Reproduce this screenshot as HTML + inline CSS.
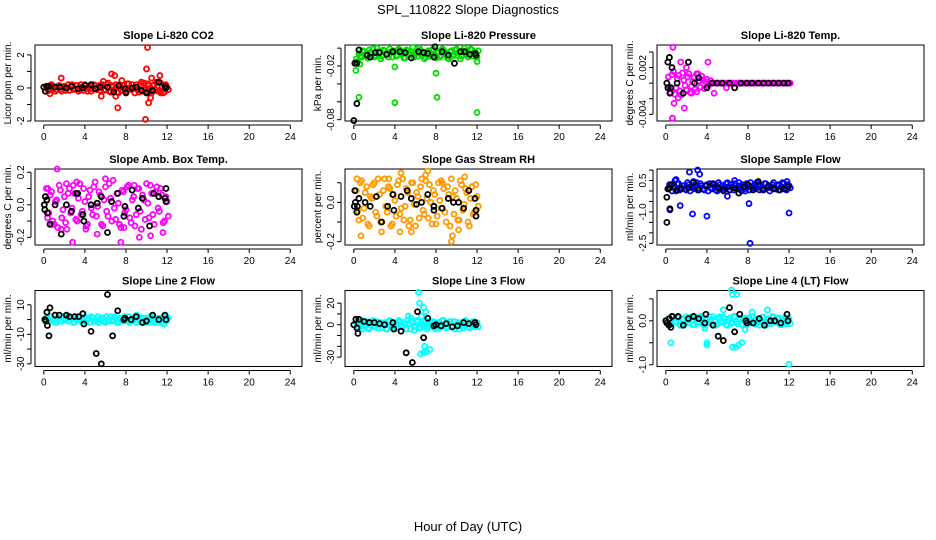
<!DOCTYPE html>
<html><head><meta charset="utf-8"><style>
body{margin:0;background:#fff;}
svg{display:block;font-family:"Liberation Sans",sans-serif;}
</style></head><body>
<svg id="chart" width="936" height="540" viewBox="0 0 936 540">
<text x="468" y="14" text-anchor="middle" font-size="13">SPL_110822  Slope Diagnostics</text>
<text x="468" y="531" text-anchor="middle" font-size="13">Hour of Day (UTC)</text>
</svg>
<script>
const xTicks=[0,4,8,12,16,20,24];
const bandHours=[0.25,0.5,0.75,1,1.25,1.5,1.75,2,2.25,2.5,2.75,3,3.25,3.5,3.75,4,4.25,4.5,4.75,5,5.25,5.5,5.75,6,6.25,6.5,6.75,7,7.25,7.5,7.75,8,8.25,8.5,8.75,9,9.25,9.5,9.75,10,10.25,10.5,10.75,11,11.25,11.5,11.75,12];

const co2BandA=[0.1,-0.15,0.2,0.05,-0.1,0.15,-0.2,0.1,0.0,-0.15,0.2,-0.05,0.15,-0.1,0.05,0.2,-0.2,0.1,-0.05,0.15,0.0,-0.15,0.2,-0.1,0.3,-0.25,0.1,0.2,-0.3,0.05,0.15,-0.2,0.25,-0.1,0.0,0.2,-0.25,0.1,0.3,-0.2,0.15,-0.3,0.2,0.35,-0.15,0.1,-0.25,0.05];
const co2BandB=[-0.1,0.15,-0.05,-0.2,0.1,-0.1,0.05,-0.15,0.2,0.1,-0.1,0.15,-0.2,0.2,-0.15,-0.05,0.1,-0.2,0.2,-0.1,0.15,0.1,-0.15,0.2,-0.2,0.15,-0.1,-0.25,0.2,-0.15,-0.1,0.25,-0.05,0.2,-0.3,-0.1,0.2,-0.2,-0.1,0.25,-0.2,0.15,-0.1,-0.2,0.3,-0.3,0.2,-0.1];
const co2Outliers=[[1.7,0.6],[6.6,0.85],[6.9,0.75],[7.0,-0.5],[7.2,-1.2],[9.9,-1.9],[10.0,1.15],[10.1,2.45],[10.2,-0.9],[10.4,-0.6],[10.5,0.6],[11.3,0.75],[11.4,-0.3],[9.5,0.35],[5.8,0.4],[7.6,0.45],[0.6,-0.35],[5.6,-0.5]];
const co2Black=[[0,0.05],[0.15,-0.2],[0.3,0.1],[0.5,0.1],[1.1,0.05],[1.6,0.05],[2.2,0.0],[2.7,0.1],[3.3,-0.05],[3.8,0.0],[4.0,0.15],[4.6,0.2],[5.0,-0.05],[5.5,0.05],[6.2,0.05],[6.8,-0.25],[7.3,0.15],[7.9,-0.05],[8.0,-0.3],[8.6,0.0],[9.0,0.05],[9.5,-0.15],[10.0,-0.3],[10.6,-0.15],[11.2,0.35],[11.8,0.1],[11.9,0.0]];

const presBandA=[-0.012,-0.006,-0.01,-0.004,-0.008,-0.002,-0.006,-0.01,0.0,-0.005,-0.009,-0.003,-0.007,-0.001,-0.01,-0.004,-0.008,-0.002,-0.006,-0.011,-0.003,-0.007,0.001,-0.005,-0.009,-0.002,-0.006,-0.01,-0.003,-0.007,-0.001,-0.011,-0.004,-0.008,-0.002,-0.006,-0.012,-0.003,-0.007,-0.001,-0.005,-0.009,0.0,-0.004,-0.008,-0.002,-0.006,-0.01];
const presBandB=[-0.015,-0.009,-0.003,-0.007,-0.011,-0.005,-0.001,-0.008,-0.004,-0.012,-0.002,-0.006,-0.01,-0.004,-0.003,-0.009,-0.001,-0.007,-0.011,-0.002,-0.008,-0.004,-0.01,-0.006,0.0,-0.008,-0.012,-0.004,-0.009,-0.002,-0.008,-0.005,-0.01,-0.001,-0.007,-0.011,-0.004,-0.009,-0.002,-0.008,-0.012,-0.003,-0.007,-0.01,-0.001,-0.009,-0.005,-0.003];
const presOutliers=[[0.2,-0.025],[0.5,-0.055],[4.0,-0.061],[8.0,-0.028],[8.1,-0.055],[12.0,-0.072],[12.0,-0.015],[4.0,-0.021],[0.6,-0.018]];
const presBlack=[[0.0,-0.081],[0.3,-0.062],[0.1,-0.017],[0.3,-0.017],[0.5,-0.002],[1.3,-0.008],[1.6,-0.01],[2.1,-0.005],[2.5,-0.005],[3.2,-0.007],[3.8,-0.004],[4.5,-0.004],[5.0,-0.005],[5.6,-0.011],[6.3,-0.004],[6.8,-0.005],[7.2,-0.006],[7.8,-0.01],[7.9,0.0015],[8.6,-0.004],[9.2,-0.008],[9.8,-0.017],[10.4,-0.004],[10.8,-0.004],[11.3,-0.007],[11.8,-0.006],[11.9,-0.008]];

const tempBandA=[0.0008,-0.0012,0.0015,-0.0006,0.001,-0.0015,0.0004,-0.0009,0.0012,-0.0004,0.0007,-0.0011,0.0003,0.0009,-0.0007,0.0005,0,0,0,0,0,0,0,0,0,0,0,0,0,0,0,0,0,0,0,0,0,0,0,0,0,0,0,0,0,0,0,0];
const tempBandB=[-0.0005,0.0011,-0.0014,0.0006,-0.001,0.0013,-0.0003,0.0008,-0.0012,0.0002,-0.0008,0.0012,-0.0005,0.0004,0.0002,-0.0003,0.0003,0,0,0,0,0,0,0,0,0,0,0,0,0,0,0,0,0,0,0,0,0,0,0,0,0,0,0,0,0,0,0];
const tempOutliers=[[0.7,0.0046],[0.65,-0.0045],[1.8,-0.0032],[0.8,-0.0026],[1.45,0.0027],[4.1,0.0027],[2.0,0.002],[4.7,-0.0013],[3.0,0.0012],[2.5,-0.0013],[1.2,-0.0019],[5.9,-0.0006]];
const tempBlack=[[0.1,0],[0.2,0.0027],[0.2,-0.0006],[0.35,0.0033],[0.4,-0.0013],[0.5,-0.0006],[0.6,0.002],[1.1,0],[1.7,-0.0013],[2.2,0.0027],[2.8,0],[3.2,0.0007],[4.0,-0.0006],[4.5,0],[5.0,0],[5.5,0],[6.2,0],[6.7,-0.0006],[7.3,0],[7.9,0],[8.4,0],[9.0,0],[9.5,0],[10.0,0],[10.5,0],[11.0,0],[11.5,0],[11.9,0]];

const ambBandA=[0.1,-0.05,0.08,-0.12,0.03,0.12,-0.08,0.05,-0.15,0.1,-0.02,0.07,-0.1,0.13,-0.04,0.02,-0.12,0.09,-0.06,0.14,-0.01,0.06,-0.13,0.11,-0.07,0.04,0.15,-0.09,0.01,-0.14,0.08,-0.03,0.12,-0.11,0.05,-0.06,0.1,-0.15,0.03,0.13,-0.08,0.07,-0.12,0.11,-0.04,0.06,-0.1,0.02];
const ambBandB=[-0.08,0.06,-0.1,0.02,-0.14,0.09,-0.03,-0.11,0.07,-0.05,0.12,-0.09,0.04,-0.06,0.1,-0.13,0.05,-0.02,0.11,-0.07,0.08,-0.12,0.03,-0.04,0.13,-0.1,-0.02,0.07,-0.12,0.09,-0.05,0.11,-0.08,0.03,-0.13,0.1,-0.04,0.06,-0.09,0.01,0.12,-0.06,0.08,-0.02,0.1,-0.11,0.05,-0.07];
const ambOutliers=[[1.3,0.22],[2.8,-0.23],[7.5,-0.23],[5.2,-0.18],[3.2,0.14],[6.0,0.16],[2.2,0.13],[9.3,-0.2],[10.4,-0.19],[1.7,-0.15],[0.8,-0.12],[11.6,-0.17],[4.1,-0.15],[7.8,-0.14],[0.4,0.1],[8.8,0.12]];
const ambBlack=[[0.05,0.0],[0.1,-0.03],[0.15,0.05],[0.3,0.03],[0.35,-0.05],[0.6,-0.12],[1.1,0.0],[1.7,-0.18],[2.2,0.0],[2.7,-0.04],[3.2,0.07],[3.3,0.07],[3.8,-0.06],[3.9,-0.1],[4.6,0.0],[5.2,0.01],[5.6,0.05],[6.2,-0.17],[6.6,0.02],[7.2,0.07],[7.8,-0.07],[7.9,-0.01],[8.6,0.09],[9.2,-0.02],[9.6,0.04],[10.3,-0.13],[10.7,0.07],[11.2,0.05],[11.8,0.04],[11.9,0.1],[11.9,0.02]];

const rhBandA=[0.06,-0.09,0.11,-0.03,0.08,-0.12,0.02,0.1,-0.07,0.04,-0.1,0.12,-0.05,0.07,-0.11,0.01,0.09,-0.06,0.12,-0.02,0.05,-0.09,0.1,-0.12,0.03,0.08,-0.04,0.11,-0.08,0.0,0.06,-0.11,0.1,-0.03,0.07,-0.1,0.04,0.12,-0.06,0.02,-0.09,0.09,-0.01,0.05,-0.12,0.08,-0.05,0.03];
const rhBandB=[-0.04,0.1,-0.08,0.05,-0.11,0.03,0.09,-0.05,0.12,-0.1,0.06,-0.02,0.08,-0.12,0.04,-0.07,0.11,-0.03,-0.09,0.07,-0.12,0.1,-0.01,0.05,-0.08,0.12,-0.06,0.02,0.09,-0.11,0.04,-0.07,0.01,0.1,-0.05,0.08,-0.12,0.03,0.06,-0.09,0.11,-0.04,0.07,-0.1,0.02,-0.06,0.09,-0.02];
const rhOutliers=[[0.7,-0.17],[2.7,-0.15],[4.6,0.15],[7.2,0.16],[9.5,-0.2],[9.6,-0.17],[10.8,0.13],[7.0,0.14],[4.5,-0.15],[5.6,-0.15],[10.2,-0.14],[0.3,0.12],[8.5,0.11],[3.4,0.12]];
const rhBlack=[[0.05,-0.02],[0.1,0.06],[0.15,0.0],[0.3,-0.05],[0.35,-0.02],[0.5,0.02],[1.1,0.0],[1.6,-0.02],[2.2,0.03],[2.7,-0.1],[3.3,-0.02],[3.8,0.04],[3.9,-0.04],[4.6,0.03],[5.2,0.06],[5.6,0.02],[6.1,-0.01],[6.6,0.0],[7.2,0.04],[7.8,-0.02],[7.8,-0.04],[8.6,-0.03],[9.2,0.02],[9.7,0.0],[10.2,0.0],[10.7,-0.03],[11.2,0.06],[11.8,0.02],[11.9,-0.04],[11.9,-0.07]];

const flowBandA=[0.1,0.3,0.2,0.0,0.35,0.15,0.25,0.05,0.3,0.2,0.1,0.4,0.15,0.25,0.05,0.3,0.35,0.1,0.2,0.0,0.3,0.25,0.15,0.4,0.05,0.2,0.35,0.1,0.25,0.3,0.0,0.2,0.4,0.15,0.1,0.3,0.25,0.05,0.35,0.2,0.15,0.4,0.1,0.3,0.2,0.35,0.05,0.25];
const flowBandB=[0.3,0.0,0.15,0.35,0.05,0.25,0.1,0.4,0.0,0.15,0.3,0.05,0.35,0.1,0.25,0.0,0.15,0.3,0.05,0.4,0.1,0.0,0.35,0.2,0.3,0.05,0.15,0.4,0.0,0.1,0.35,0.05,0.2,0.3,0.4,0.05,0.1,0.35,0.15,0.0,0.3,0.1,0.25,0.05,0.4,0.1,0.3,0.15];
const flowOutliers=[[2.3,0.9],[3.1,1.0],[3.3,0.8],[8.2,-2.5],[8.1,-0.6],[12.0,-1.05],[4.0,-1.2],[2.6,-1.1],[1.4,-0.7],[0.4,-0.9],[0.9,0.5],[2.7,0.45],[6.7,0.5],[1.0,0.55],[11.8,0.45],[6.0,-0.25]];
const flowBlack=[[0.1,-1.5],[0.4,-0.85],[0.1,-0.3],[0.2,0.1],[0.4,0.15],[0.6,0.3],[1.1,0.05],[1.5,0.1],[2.2,0.15],[2.7,0.4],[3.2,0.05],[3.9,0.25],[4.6,0.35],[5.1,0.15],[5.6,0.05],[6.2,0.05],[6.7,0.15],[7.1,-0.1],[7.6,0.2],[8.0,0.3],[8.5,0.05],[9.0,0.45],[9.5,0.05],[10.0,0.25],[10.5,0.1],[11.0,0.05],[11.5,0.1],[11.9,0.2]];

const l2BandA=[1,-1,2,0,-2,1,-1,0,2,-1,1,-2,0,1,-1,2,0,-2,1,-1,2,0,1,-2,-1,2,0,1,-2,1,-1,0,2,-1,1,-2,2,0,-1,1,-2,2,-1,0,1,-2,2,0];
const l2BandB=[-1,2,0,-2,1,-1,2,0,-1,1,-2,1,2,-1,0,-2,1,2,-1,0,-2,1,-1,2,0,-1,2,-2,1,0,2,-1,-2,1,0,2,-1,1,-2,0,2,-1,1,-2,0,2,-1,1];
const l2Outliers=[[11.7,-3],[9.0,3],[10.8,-2]];
const l2Black=[[0.1,0],[0.2,-1],[0.3,5],[0.35,-4],[0.5,-11],[0.6,8],[1.1,3],[1.5,3],[2.2,3],[2.5,2],[3.0,2],[3.4,2],[3.8,4],[3.9,-3],[4.6,-8],[5.1,-23],[5.6,-30],[6.2,17],[6.7,-11],[7.2,6],[7.8,0],[7.9,1],[8.5,0],[9.0,2],[9.6,-2],[10.0,-1],[10.6,3],[11.2,0],[11.8,3],[11.9,0]];

const l3BandA=[2,-3,4,-1,3,-4,1,-2,3,0,-3,2,-4,4,-1,1,-3,3,-2,0,4,-4,2,-1,3,-3,1,4,-2,0,3,-4,2,-1,4,-3,1,-2,3,0,-4,2,-1,3,-3,1,-2,2];
const l3BandB=[-2,3,-4,1,-3,2,4,-1,-3,2,1,-4,3,-2,0,-3,4,-1,2,-4,1,3,-2,4,-3,0,-1,-4,3,2,-2,1,-3,4,0,-2,3,-1,-4,2,1,-3,4,-2,0,3,-1,-2];
const l3Outliers=[[6.3,30],[6.4,20],[6.6,8],[6.8,16],[7.0,12],[6.5,-27],[6.8,-26],[7.1,-25],[7.4,-23],[6.9,-20],[7.8,-3],[5.3,8],[5.6,6],[5.9,-5]];
const l3Black=[[0,0],[0.2,5],[0.3,-3],[0.4,-8],[0.5,5],[1.0,3],[1.5,2],[2.0,2],[2.5,1],[3.0,0],[3.8,2],[3.9,-4],[4.6,-6],[5.1,-26],[5.7,-35],[6.2,12],[6.8,-12],[7.2,6],[7.8,-1],[8.0,0],[8.5,-1],[9.0,1],[9.6,-2],[10.1,-1],[10.7,2],[11.2,1],[11.8,2],[11.9,0]];

const l4BandA=[0.05,-0.08,0.1,-0.02,0.07,-0.1,0.03,0.09,-0.05,0.01,-0.09,0.08,-0.03,0.06,-0.1,0.04,0.1,-0.06,0.02,-0.08,0.09,-0.01,0.05,-0.1,0.07,-0.04,0.1,-0.07,0.03,-0.09,0.06,0.0,-0.05,0.1,-0.08,0.04,-0.02,0.08,-0.1,0.05,-0.06,0.09,-0.03,0.07,-0.09,0.02,-0.07,0.04];
const l4BandB=[-0.06,0.09,-0.03,0.07,-0.1,0.04,-0.07,0.01,0.08,-0.09,0.06,-0.02,0.1,-0.08,0.03,-0.05,-0.01,0.09,-0.1,0.05,-0.04,0.08,-0.09,0.02,-0.06,0.1,-0.02,0.06,-0.08,0.04,-0.1,0.07,0.09,-0.04,0.01,-0.1,0.08,-0.05,0.03,-0.07,0.1,-0.02,0.06,-0.09,0.04,0.08,-0.03,-0.06];
const l4Outliers=[[6.4,0.7],[6.5,0.6],[6.9,0.6],[0.5,-0.5],[4.0,-0.55],[4.0,-0.5],[6.5,-0.6],[6.8,-0.6],[7.1,-0.55],[7.4,-0.5],[12.0,-0.99],[5.6,0.25],[8.4,0.2],[9.9,0.25],[7.7,-0.2],[3.8,-0.17]];
const l4Black=[[0,0],[0.1,-0.05],[0.3,-0.1],[0.35,0.05],[0.5,-0.15],[0.6,0.1],[1.2,0.1],[1.7,-0.1],[2.2,0.05],[2.7,0.1],[3.2,0.05],[3.8,-0.05],[3.9,0.15],[4.6,-0.1],[5.1,-0.35],[5.6,-0.45],[6.2,0.3],[6.7,-0.25],[7.2,0.15],[7.8,0],[7.9,-0.05],[8.5,-0.05],[9.1,0.05],[9.6,-0.1],[10.2,0],[10.6,0],[11.2,-0.05],[11.8,0.15],[11.9,0]];

const panels=[
 {id:'co2',title:'Slope Li-820 CO2',ylab:'Licor ppm per min.',col:0,row:0,ymin:-2.0,ymax:2.6,ticks:[-2,-1,0,1,2],labels:['-2','','0','','2'],color:'#ff0000',bandA:co2BandA,bandB:co2BandB,out:co2Outliers,black:co2Black},
 {id:'pressure',title:'Slope Li-820 Pressure',ylab:'kPa per min.',col:1,row:0,ymin:-0.0815,ymax:0.0035,ticks:[-0.08,-0.06,-0.04,-0.02,0],labels:['-0.08','','','-0.02',''],color:'#00dd00',bandA:presBandA,bandB:presBandB,out:presOutliers,black:presBlack},
 {id:'temp',title:'Slope Li-820 Temp.',ylab:'degrees C per min.',col:2,row:0,ymin:-0.00486,ymax:0.0049,ticks:[-0.004,-0.002,0,0.002,0.004],labels:['-0.004','','','0.002',''],color:'#ff00ff',bandA:tempBandA,bandB:tempBandB,out:tempOutliers,black:tempBlack},
 {id:'amb',title:'Slope Amb. Box Temp.',ylab:'degrees C per min.',col:0,row:1,ymin:-0.247,ymax:0.22,ticks:[-0.2,-0.1,0,0.1,0.2],labels:['-0.2','','0.0','','0.2'],color:'#ff00ff',bandA:ambBandA,bandB:ambBandB,out:ambOutliers,black:ambBlack},
 {id:'rh',title:'Slope Gas Stream RH',ylab:'percent per min.',col:1,row:1,ymin:-0.217,ymax:0.17,ticks:[-0.2,-0.1,0,0.1],labels:['-0.2','','0.0',''],color:'#ff9900',bandA:rhBandA,bandB:rhBandB,out:rhOutliers,black:rhBlack},
 {id:'flow',title:'Slope Sample Flow',ylab:'ml/min per min.',col:2,row:1,ymin:-2.58,ymax:1.05,ticks:[-2.5,-2,-1.5,-1,-0.5,0,0.5,1],labels:['-2.5','','','-1.0','','','0.5',''],color:'#0000ff',bandA:flowBandA,bandB:flowBandB,out:flowOutliers,black:flowBlack},
 {id:'line2',title:'Slope Line 2 Flow',ylab:'ml/min per min.',col:0,row:2,ymin:-31.8,ymax:19.7,ticks:[-30,-20,-10,0,10],labels:['-30','','-10','','10'],color:'#00ffff',bandA:l2BandA,bandB:l2BandB,out:l2Outliers,black:l2Black},
 {id:'line3',title:'Slope Line 3 Flow',ylab:'ml/min per min.',col:1,row:2,ymin:-38.7,ymax:31.7,ticks:[-30,-20,-10,0,10,20],labels:['-30','','','0','','20'],color:'#00ffff',bandA:l3BandA,bandB:l3BandB,out:l3Outliers,black:l3Black},
 {id:'line4',title:'Slope Line 4 (LT) Flow',ylab:'ml/min per min.',col:2,row:2,ymin:-1.04,ymax:0.69,ticks:[-1,-0.5,0,0.5],labels:['-1.0','','0.0',''],color:'#00ffff',bandA:l4BandA,bandB:l4BandB,out:l4Outliers,black:l4Black}
];

const NS='http://www.w3.org/2000/svg';
const svg=document.getElementById('chart');
const colLeft=[35,345,657], rowTop=[45,169,290.5], W=267, H=76;
const XMIN=-0.857, XMAX=25.14;
function mk(tag,attrs,parent){const e=document.createElementNS(NS,tag);for(const k in attrs)e.setAttribute(k,attrs[k]);(parent||svg).appendChild(e);return e;}

panels.forEach(p=>{
  const L=colLeft[p.col], T=rowTop[p.row];
  const xs=v=>L+(v-XMIN)/(XMAX-XMIN)*W;
  const ys=v=>T+H-(v-p.ymin)/(p.ymax-p.ymin)*H;
  const g=mk('g',{});
  
  
  const t=mk('text',{x:L+W/2,y:T-6,'text-anchor':'middle','font-size':'11','font-weight':'bold'},g);
  t.textContent=p.title;
  
  
  const yl=mk('text',{x:0,y:0,'text-anchor':'middle','font-size':'10',transform:`translate(${L-24},${T+H/2}) rotate(-90)`},g);
  yl.textContent=p.ylab;
  
  
  const xa=mk('line',{x1:xs(0),x2:xs(24),y1:T+H+4,y2:T+H+4,stroke:'#000','stroke-width':1},g);
  
  
  xTicks.forEach(v=>{
    const tk=mk('line',{x1:xs(v),x2:xs(v),y1:T+H+4,y2:T+H+8,stroke:'#000'},g);
    
    
    const tl=mk('text',{x:xs(v),y:T+H+19,'text-anchor':'middle','font-size':'10'},g);
    tl.textContent=String(v);
    
    
  });
  const ya=mk('line',{x1:L-4,x2:L-4,y1:ys(p.ticks[0]),y2:ys(p.ticks[p.ticks.length-1]),stroke:'#000'},g);
  
  
  p.ticks.forEach((v,i)=>{
    const tk=mk('line',{x1:L-8,x2:L-4,y1:ys(v),y2:ys(v),stroke:'#000'},g);
    
    
    if(p.labels[i]){
      const tl=mk('text',{x:0,y:0,'text-anchor':'middle','font-size':'10',transform:`translate(${L-11},${ys(v)}) rotate(-90)`},g);
      tl.textContent=p.labels[i];
      
      
    }
  });
  const box=mk('rect',{x:L,y:T,width:W,height:H,fill:'none',stroke:'#000','stroke-width':1},g);
  
  
  const pts=mk('g',{fill:'none','stroke-width':1.8},g);
  
  
  const dot=(x,y,c,name)=>{
    const cy=ys(y); if(cy<T-3||cy>T+H+3) return;
    const e=mk('circle',{cx:xs(x),cy:cy,r:2.5,stroke:c},pts);
    
    
  };
  bandHours.forEach((h,i)=>{dot(h,p.bandA[i],p.color,p.id+'-point');dot(h+0.12,p.bandB[i],p.color,p.id+'-point');});
  p.out.forEach(d=>dot(d[0],d[1],p.color,p.id+'-outlier-point'));
  p.black.forEach(d=>dot(d[0],d[1],'#000',p.id+'-black-point'));
});
</script>
</body></html>
